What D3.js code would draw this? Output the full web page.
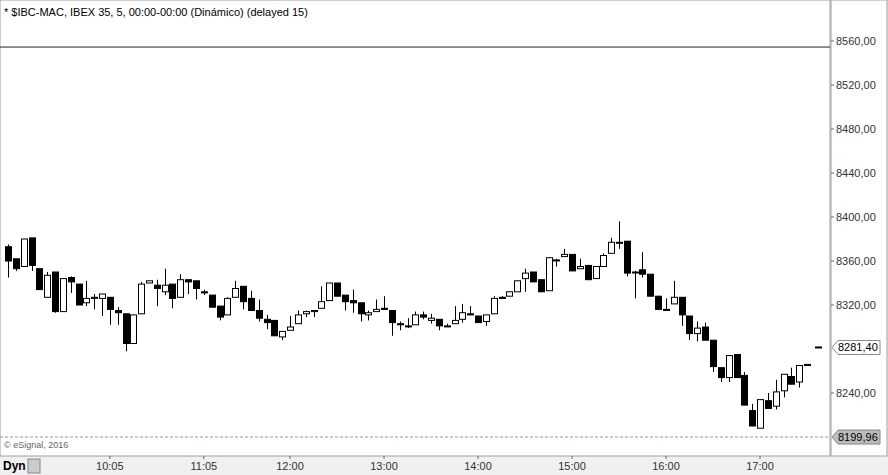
<!DOCTYPE html>
<html><head><meta charset="utf-8">
<script src="https://cdn.jsdelivr.net/npm/d3@7"></script>
<style>body{margin:0;background:#fff;font-family:Arial,"Liberation Sans",sans-serif}</style>
</head><body><svg id="chart" width="888" height="475"></svg>
<script>
var opens  = [8373,8362,8355,8381,8353,8327,8350,8314,8345,8339,8322,8326,8326,8327,8315,8312,8285,8312,8340,8338,8332,8339,8327,8343,8342,8332,8329,8319,8311,8327,8337,8326,8315,8307,8306,8291,8297,8303,8312,8314,8317,8324,8340,8329,8324,8322,8311,8314,8317,8315,8303,8301,8302,8311,8306,8307,8301,8303,8307,8312,8310,8305,8312,8327,8328,8332,8344,8350,8343,8333,8361,8364,8366,8353,8356,8344,8355,8367,8377,8378,8350,8352,8348,8328,8316,8321,8327,8310,8294,8300,8288,8263,8254,8275,8256,8224,8208,8233,8228,8242,8255,8250,8265];
var highs  = [8375,8362,8380,8381,8353,8350,8350,8344,8346,8339,8342,8330,8330,8327,8318,8312,8311,8341,8342,8343,8353,8339,8348,8343,8342,8334,8329,8319,8327,8342,8337,8333,8325,8311,8306,8296,8310,8315,8315,8315,8337,8340,8340,8329,8334,8322,8315,8325,8328,8315,8305,8308,8314,8314,8312,8307,8303,8319,8321,8319,8310,8311,8328,8328,8332,8342,8353,8350,8343,8363,8362,8371,8366,8362,8356,8355,8367,8381,8396,8378,8351,8368,8348,8328,8326,8342,8327,8310,8305,8304,8288,8263,8274,8275,8259,8230,8234,8240,8252,8257,8263,8265,8266];
var lows   = [8345,8351,8355,8351,8334,8327,8313,8314,8331,8320,8319,8316,8310,8302,8302,8278,8285,8312,8340,8319,8329,8317,8327,8330,8325,8329,8318,8306,8311,8327,8316,8315,8305,8298,8292,8288,8297,8303,8309,8309,8317,8324,8328,8315,8313,8305,8306,8314,8316,8292,8297,8299,8302,8307,8303,8297,8300,8303,8304,8311,8304,8301,8312,8326,8328,8332,8332,8341,8332,8333,8355,8364,8351,8353,8343,8344,8355,8367,8371,8346,8326,8345,8328,8316,8315,8321,8301,8288,8287,8288,8259,8250,8250,8254,8229,8210,8208,8226,8225,8236,8248,8245,8265];
var closes = [8360,8353,8380,8356,8334,8347,8314,8344,8341,8320,8326,8327,8330,8316,8313,8285,8311,8339,8342,8335,8338,8326,8343,8341,8335,8331,8318,8309,8326,8335,8323,8315,8308,8304,8292,8296,8300,8311,8314,8315,8323,8340,8328,8323,8322,8312,8313,8316,8316,8304,8302,8301,8311,8309,8308,8301,8301,8306,8313,8311,8304,8311,8326,8326,8332,8342,8349,8341,8332,8363,8361,8366,8351,8355,8343,8355,8365,8377,8377,8349,8350,8348,8328,8316,8315,8327,8311,8294,8299,8288,8264,8254,8274,8254,8229,8210,8234,8226,8241,8257,8248,8265,8266];
var priceTicks = [8560,8520,8480,8440,8400,8360,8320,8240];
var timeTicks = [[13,"10:05"],[25,"11:05"],[36,"12:00"],[48,"13:00"],[60,"14:00"],[72,"15:00"],[84,"16:00"],[96,"17:00"]];
var lastPrice = 8281.40, lowLine = 8199.96, topLine = 8554.5;

var W = 888, H = 475, plotR = 830, plotB = 456;
var svg = d3.select("#chart");
var x = d3.scaleLinear().domain([0, opens.length - 1]).range([8, 807]);
var y = d3.scaleLinear().domain([8240, 8560]).range([393, 41]);
var fmt = function(v) { return d3.format(".2f")(v).replace(".", ","); };

// frame backgrounds
svg.append("rect").attr("width", W).attr("height", H).attr("fill", "#f0f0f0");
svg.append("rect").attr("x", 0).attr("y", 0).attr("width", plotR).attr("height", plotB).attr("fill", "#fff").attr("stroke", "#a0a0a0");
svg.append("rect").attr("x", plotR + 1).attr("y", 0).attr("width", W - plotR - 2).attr("height", plotB).attr("fill", "#fff").attr("stroke", "#a0a0a0");

svg.append("line").attr("x1", 0).attr("x2", plotR).attr("y1", y(topLine)).attr("y2", y(topLine)).attr("stroke", "#222");
svg.append("line").attr("x1", 0).attr("x2", plotR).attr("y1", y(lowLine)).attr("y2", y(lowLine))
  .attr("stroke", "#999").attr("stroke-dasharray", "3,2");

// candles
var idx = d3.range(opens.length);
var g = svg.append("g");
g.selectAll(".wick").data(idx).enter().append("line")
  .attr("x1", function(i) { return Math.round(x(i)) + 0.5; })
  .attr("x2", function(i) { return Math.round(x(i)) + 0.5; })
  .attr("y1", function(i) { return y(highs[i]); })
  .attr("y2", function(i) { return y(lows[i]); })
  .attr("stroke", "#000");
g.selectAll(".body").data(idx).enter().append("rect")
  .attr("x", function(i) { return Math.round(x(i)) - 2.5; })
  .attr("width", 6)
  .attr("y", function(i) { return y(Math.max(opens[i], closes[i])); })
  .attr("height", function(i) { return Math.max(1, Math.abs(y(opens[i]) - y(closes[i]))); })
  .attr("fill", function(i) { return closes[i] < opens[i] ? "#000" : "#fff"; })
  .attr("stroke", "#000").attr("stroke-width", 1);

svg.append("line").attr("x1", 815).attr("x2", 822).attr("y1", y(lastPrice)).attr("y2", y(lastPrice))
  .attr("stroke", "#000").attr("stroke-width", 2);

// price axis
var pa = svg.append("g");
priceTicks.forEach(function(p) {
  pa.append("line").attr("x1", plotR + 1).attr("x2", plotR + 4).attr("y1", y(p)).attr("y2", y(p)).attr("stroke", "#666");
  pa.append("text").attr("x", 836).attr("y", y(p) + 4).attr("font-size", 11).attr("fill", "#333").text(fmt(p));
});
[[lastPrice, "#fff"], [lowLine, "#bbb"]].forEach(function(d) {
  var yy = y(d[0]);
  pa.append("path").attr("d", "M832," + yy + "L838," + (yy - 7) + "H880V" + (yy + 7) + "H838Z")
    .attr("fill", d[1]).attr("stroke", "#888");
  pa.append("text").attr("x", 838).attr("y", yy + 4).attr("font-size", 11).attr("fill", "#000").text(fmt(d[0]));
});

// time axis
timeTicks.forEach(function(t) {
  svg.append("line").attr("x1", x(t[0])).attr("x2", x(t[0])).attr("y1", plotB).attr("y2", plotB + 3).attr("stroke", "#666");
  svg.append("text").attr("x", x(t[0])).attr("y", 470).attr("text-anchor", "middle").attr("font-size", 11).attr("fill", "#333").text(t[1]);
});
svg.append("text").attr("x", 3).attr("y", 470).attr("font-size", 12).attr("font-weight", "bold").text("Dyn");
svg.append("rect").attr("x", 28).attr("y", 459).attr("width", 12).attr("height", 14).attr("fill", "#ccc").attr("stroke", "#888");

svg.append("text").attr("x", 4).attr("y", 16).attr("font-size", 11).attr("fill", "#000")
  .text("* $IBC-MAC, IBEX 35, 5, 00:00-00:00 (Dinámico) (delayed 15)");
svg.append("text").attr("x", 4).attr("y", 448).attr("font-size", 9).attr("fill", "#666").text("© eSignal, 2016");
</script></body></html>
